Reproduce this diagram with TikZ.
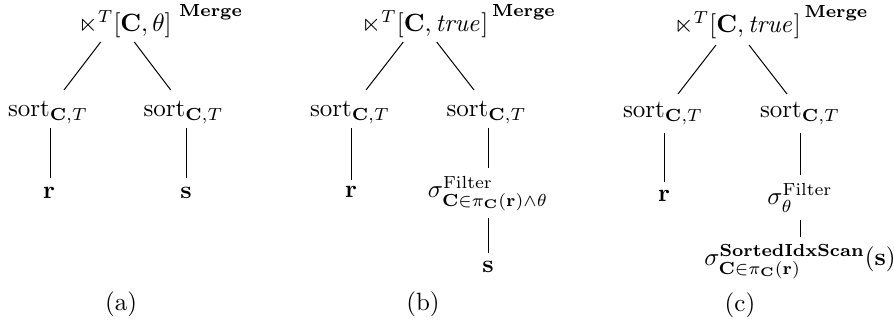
\documentclass[tikz,border=0pt]{standalone}
\usepackage{amsmath,amssymb}
\usetikzlibrary{calc}
% bold "Merge" tag set above and right of a join, taking no width
\newcommand{\mergetag}[1][2pt]{\rlap{\hspace{#1}\raisebox{6pt}{\scriptsize\bfseries Merge}}}
\newcommand{\sortCT}{$\mathrm{sort}_{\mathbf{C},T}$}

\begin{document}
\begin{tikzpicture}[x=0.4pt,y=-0.4pt,
  lbl/.style={anchor=base,inner sep=0pt,outer sep=0pt},
  edge/.style={line width=0.4pt}]
\useasboundingbox (0,0) rectangle (894,324);

% ---------------- (a) ----------------
\node[lbl] (ra) at (125,32) {$\ltimes^{T}[\mathbf{C},\theta]$\mergetag[3pt]};
\node[lbl] (al) at (48,117) {\sortCT};
\node[lbl] (ar) at (183.5,117) {\sortCT};
\node[lbl] (aR) at (49,199) {$\mathbf{r}$};
\node[lbl] (aS) at (186,199) {$\mathbf{s}$};
\node[lbl] (capa) at (121,311) {(a)};
\draw[edge] ($(ra.base)+(-24.3,10)$) -- ($(al.base)+(16,-27)$);
\draw[edge] ($(ra.base)+(9.3,10)$) -- ($(ar.base)+(-12.8,-27)$);
\draw[edge] ($(al.base)+(2,11)$) -- ($(aR.base)+(1,-21)$);
\draw[edge] ($(ar.base)+(2.5,11)$) -- ($(aS.base)+(0,-21)$);

% ---------------- (b) ----------------
\node[lbl] (rb) at (425,32) {$\ltimes^{T}[\mathbf{C},\mathit{true}]$\mergetag[1.5pt]};
\node[lbl] (bl) at (350,117) {\sortCT};
\node[lbl] (br) at (486.5,117) {\sortCT};
\node[lbl] (bR) at (351,198) {$\mathbf{r}$};
\node[lbl] (bF) at (488,198)
  {$\sigma^{\mathrm{Filter}}_{\mathbf{C}\in\pi_{\mathbf{C}}(\mathbf{r})\wedge\theta}$};
\node[lbl] (bS) at (488,273) {$\mathbf{s}$};
\node[lbl] (capb) at (423,311) {(b)};
\draw[edge] ($(rb.base)+(-21.7,10)$) -- ($(bl.base)+(16,-27)$);
\draw[edge] ($(rb.base)+(11.7,10)$) -- ($(br.base)+(-12.5,-27)$);
\draw[edge] ($(bl.base)+(1,11)$) -- ($(bR.base)+(0,-18)$);
\draw[edge] ($(br.base)+(1.5,11)$) -- ($(bF.base)+(0,-30)$);
\draw[edge] ($(bF.base)+(0,20)$) -- ($(bS.base)+(0,-20)$);

% ---------------- (c) ----------------
\node[lbl] (rc) at (737.5,33) {$\ltimes^{T}[\mathbf{C},\mathit{true}]$\mergetag[1.5pt]};
\node[lbl] (cl) at (663,118) {\sortCT};
\node[lbl] (cr) at (800,118) {\sortCT};
\node[lbl] (cR) at (664,202) {$\mathbf{r}$};
\node[lbl] (cF) at (800,205) {$\sigma^{\mathrm{Filter}}_{\theta}$};
\node[lbl] (cS) at (800,266)
  {$\sigma^{\textbf{SortedIdxScan}}_{\mathbf{C}\in\pi_{\mathbf{C}}(\mathbf{r})}(\mathbf{s})$};
\node[lbl] (capc) at (740,312) {(c)};
\draw[edge] ($(rc.base)+(-21.5,12)$) -- ($(cl.base)+(15,-24)$);
\draw[edge] ($(rc.base)+(11.5,12)$) -- ($(cr.base)+(-13,-24)$);
\draw[edge] ($(cl.base)+(1,15)$) -- ($(cR.base)+(0,-20)$);
\draw[edge] ($(cr.base)+(0,15)$) -- ($(cF.base)+(0,-30)$);
\draw[edge] ($(cF.base)+(0,15)$) -- ($(cS.base)+(0,-29)$);
\end{tikzpicture}
\end{document}
